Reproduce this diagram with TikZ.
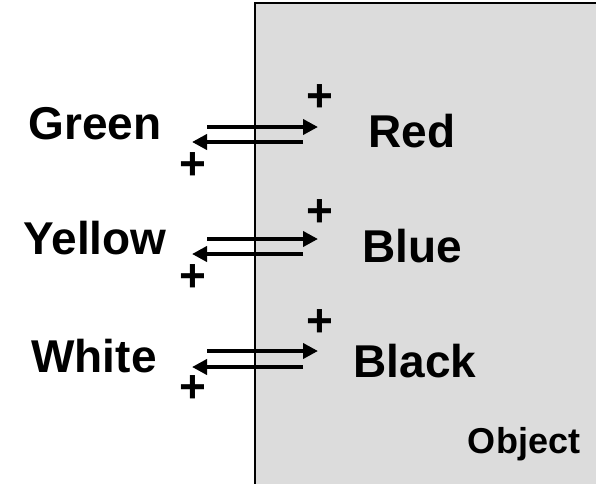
\documentclass[tikz,border=0pt]{standalone}
\usepackage{fontspec}
\setmainfont{Liberation Sans}
\usepackage{xcolor}
\definecolor{objgray}{HTML}{DCDCDC}
\usepackage{tikz}
\usetikzlibrary{arrows.meta}

\begin{document}
\begin{tikzpicture}[x=1pt, y=-1pt,
    >={Triangle[length=15pt, width=15pt]},
    lbl/.style={font=\fontsize{46}{50}\selectfont\bfseries, inner sep=0pt},
    sgn/.style={font=\fontsize{46}{50}\selectfont\bfseries, inner sep=0pt},
    flow/.style={->, line width=4pt}]
  \useasboundingbox (0,0) rectangle (596,483);
  \clip (0,0) rectangle (596,483);

  % the object
  \draw[fill=objgray, line width=1.5pt] (255,3) rectangle (610,500);
  \node[font=\fontsize{36}{40}\selectfont\bfseries, inner sep=0pt, anchor=base] (obj) at (524,453) {Object};

  % row 1
  \node[lbl, anchor=base] (green) at (95,139) {Green};
  \node[lbl, anchor=base] (red) at (412,147) {Red};
  \coordinate (g1) at (207,127);
  \coordinate (r1) at (318,127);
  \coordinate (r2) at (303,142);
  \coordinate (g2) at (192,142);
  \draw[flow] (g1) -- (r1);
  \draw[flow] (r2) -- (g2);
  \node[sgn] (pr) at (320,98) {+};
  \node[sgn] (pg) at (193,166) {+};

  % row 2
  \node[lbl, anchor=base] (yellow) at (95,254) {Yellow};
  \node[lbl, anchor=base] (blue) at (412,262) {Blue};
  \coordinate (y1) at (207,239);
  \coordinate (b1) at (318,239);
  \coordinate (b2) at (303,254);
  \coordinate (y2) at (192,254);
  \draw[flow] (y1) -- (b1);
  \draw[flow] (b2) -- (y2);
  \node[sgn] (pb) at (320,213) {+};
  \node[sgn] (py) at (193,278) {+};

  % row 3
  \node[lbl, anchor=base] (white) at (94,372) {White};
  \node[lbl, anchor=base] (black) at (415,377) {Black};
  \coordinate (w1) at (207,351);
  \coordinate (k1) at (318,351);
  \coordinate (k2) at (303,367);
  \coordinate (w2) at (192,367);
  \draw[flow] (w1) -- (k1);
  \draw[flow] (k2) -- (w2);
  \node[sgn] (pk) at (320,323) {+};
  \node[sgn] (pw) at (193,389) {+};

\end{tikzpicture}
\end{document}
